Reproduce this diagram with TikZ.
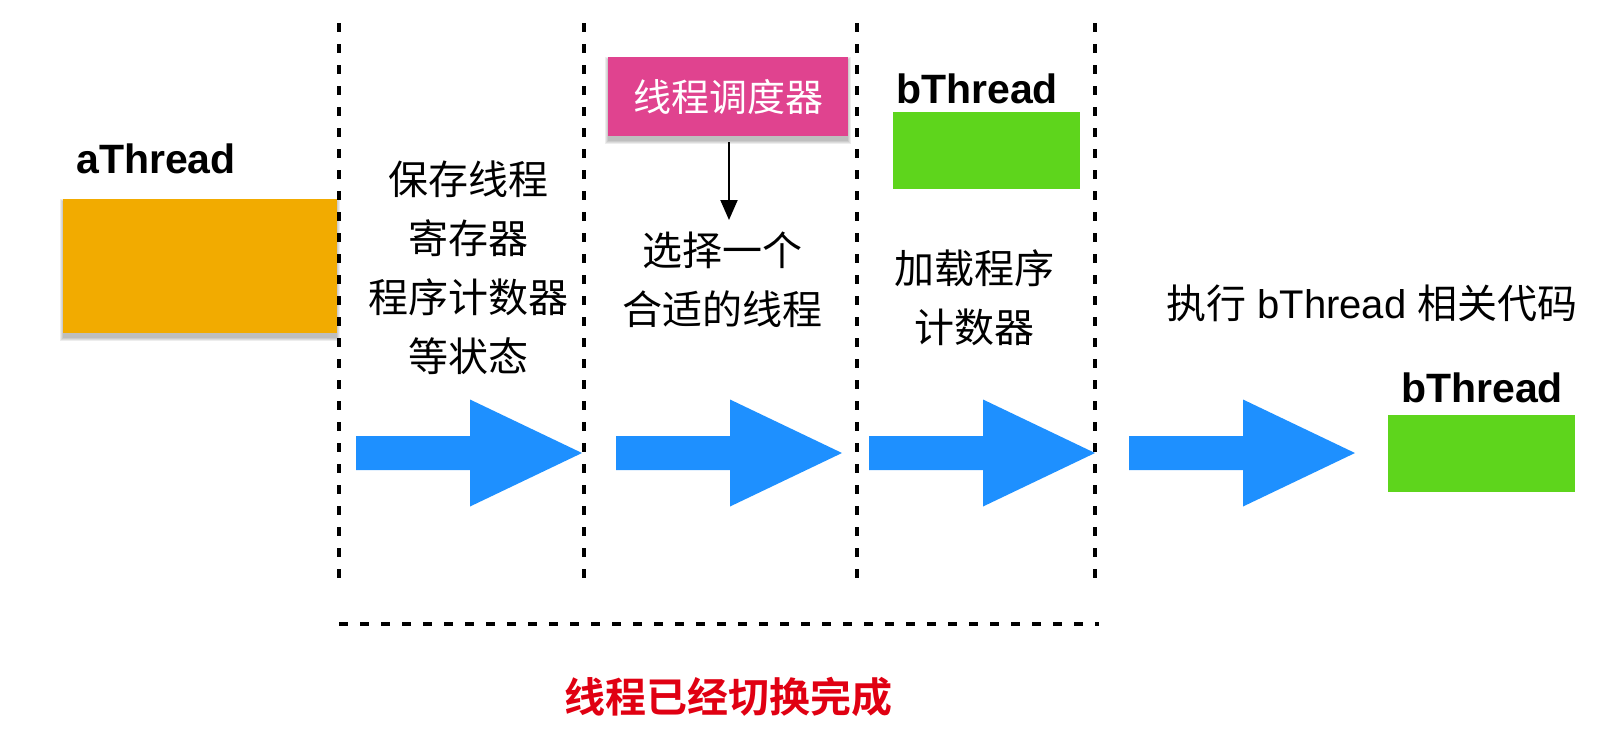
\documentclass[tikz,border=0pt]{standalone}
\usepackage{fontspec}
\setmainfont{Liberation Sans}
\newfontfamily\cjk{Noto Sans CJK SC}
\newfontfamily\cjkb{Noto Sans CJK SC Bold}
\usetikzlibrary{arrows.meta}
\definecolor{athr}{HTML}{F2AB00}
\definecolor{bthr}{HTML}{5ED51C}
\definecolor{sched}{HTML}{E0438F}
\definecolor{arrowblue}{HTML}{1E90FF}
\definecolor{donered}{HTML}{E00012}
\tikzset{
  box/.style={inner sep=0pt, anchor=north west},
  label/.style={font=\fontsize{41}{50}\selectfont\bfseries, inner sep=0pt, anchor=base},
  body/.style={font=\fontsize{40}{59}\selectfont\cjk, align=center, inner sep=0pt},
  sep/.style={line width=4.5pt, dash pattern=on 9pt off 12pt},
  shade1/.style={fill=black, fill opacity=0.07},
  blockarrow/.pic={\fill[arrowblue] (0,-17) -- (114,-17) -- (114,-53.5) -- (226,0) -- (114,53.5) -- (114,17) -- (0,17) -- cycle;}
}
\newcommand\softshadow[1]{%
  \foreach \d in {1,2,3,4} {
    \fill[shade1] ([xshift=-\d pt+1pt, yshift=-4pt-\d pt]#1.south west) rectangle ([xshift=\d pt-1pt, yshift=\d pt-4pt]#1.north east);
  }%
}
\begin{document}
\begin{tikzpicture}[x=1pt,y=-1pt]
\useasboundingbox (0,0) rectangle (1610,742);
% boxes
\path node[box, minimum width=274pt, minimum height=134pt] (abox) at (63,199) {};
\node[box, minimum width=240pt, minimum height=79pt] (sbox) at (608,57) {};
\softshadow{abox}
\softshadow{sbox}
\fill[athr] (abox.north west) rectangle (abox.south east);
\fill[sched] (sbox.north west) rectangle (sbox.south east);
\node[label] (alab) at (156,173) {aThread};
\node[font=\fontsize{38}{40}\selectfont\cjk, text=white] (stext) at (sbox.center) {线程调度器};
\node[box, fill=bthr, minimum width=187pt, minimum height=77pt] (bbox1) at (893,112) {};
\node[label] (blab1) at (977,103) {bThread};
\node[box, fill=bthr, minimum width=187pt, minimum height=77pt] (bbox2) at (1388,415) {};
\node[label] (blab2) at (1482,402) {bThread};
% texts
\node[body] (t1) at (468,268) {保存线程\\寄存器\\程序计数器\\等状态};
\node[body] (t2) at (722,280) {选择一个\\合适的线程};
\node[body] (t3) at (974,298) {加载程序\\计数器};
\node[body, font=\fontsize{40}{59}\selectfont] (t4) at (1372,303) {{\cjk 执行} bThread {\cjk 相关代码}};
% scheduler arrow
\coordinate (pick) at (729,220);
\draw[line width=2pt, -{Triangle[length=20pt,width=17pt]}] (sbox.south -| pick) ++(0,6) -- (pick);
% separators
\foreach \x/\n in {339/s1,584/s2,857/s3,1095/s4} {
  \coordinate (\n a) at (\x,23);
  \coordinate (\n b) at (\x,585);
  \draw[sep] (\n a) -- (\n b);
}
\coordinate (ha) at (339,624);
\coordinate (hb) at (1099,624);
\draw[sep] (ha) -- (hb);
% block arrows
\pic at (356,453) {blockarrow};
\pic at (616,453) {blockarrow};
\pic at (869,453) {blockarrow};
\pic at (1129,453) {blockarrow};
% done text
\node[font=\fontsize{41}{45}\selectfont\cjkb, text=donered] (done) at (728,697) {线程已经切换完成};
\end{tikzpicture}
\end{document}
